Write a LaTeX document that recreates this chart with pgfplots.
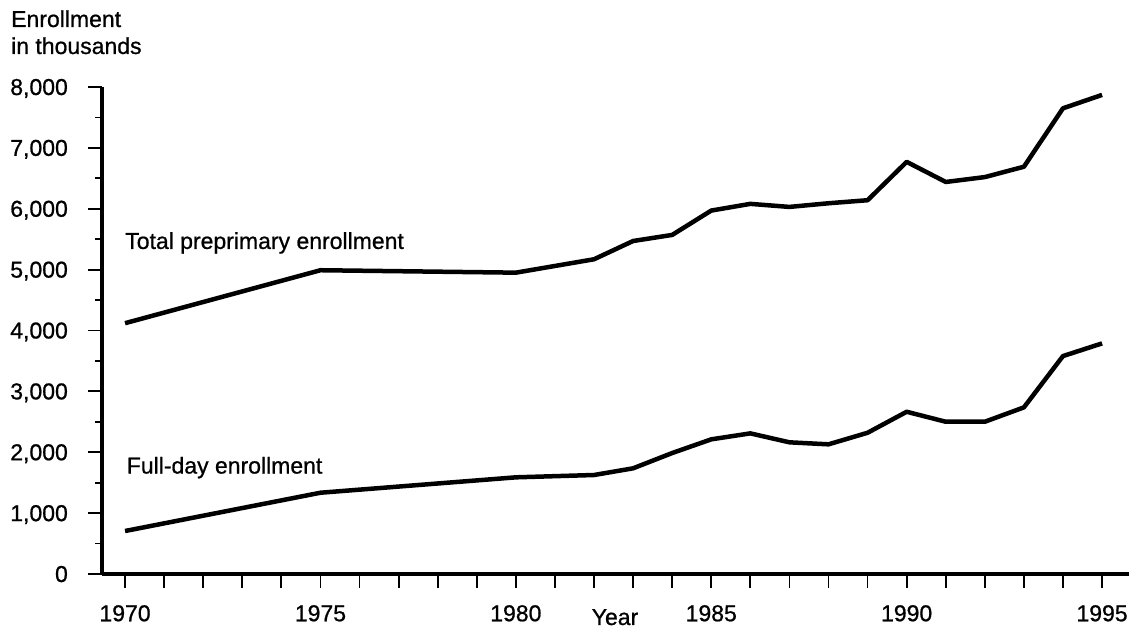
\documentclass[border=0pt]{standalone}
\usepackage{pgfplots}
\pgfplotsset{compat=1.18}
\usepackage{fontspec}
\setmainfont[FakeBold=0.8]{Liberation Sans}
\begin{document}
\fontsize{23}{27}\selectfont
\begin{tikzpicture}
\useasboundingbox (0,0) rectangle (1129pt,628pt);
\begin{axis}[
  at={(102pt,54pt)}, anchor=south west,
  scale only axis, width=1027pt, height=487pt,
  xmin=1969.41, xmax=1995.69, ymin=0, ymax=8000,
  axis x line=bottom, axis y line=left,
  axis line style={-, line width=4pt, black},
  tick align=outside,
  xtick={1970,1971,...,1995},
  xticklabels={1970,,,,,1975,,,,,1980,,,,,1985,,,,,1990,,,,,1995},
  ytick={0,1000,...,8000},
  yticklabels={0,{1,000},{2,000},{3,000},{4,000},{5,000},{6,000},{7,000},{8,000}},
  minor ytick={500,1500,...,7500},
  major tick length=14pt, minor tick length=7pt,
  every tick/.style={line width=1.8pt, black},
  xticklabel style={anchor=north, inner sep=0pt, yshift=-17pt},
  yticklabel style={anchor=base east, inner sep=0pt, xshift=-20pt, yshift=-8pt},
  clip=false,
]
\addplot[black, line width=4.5pt, line join=round] coordinates {
(1970,4120) (1975,4990) (1980,4950) (1982,5170) (1983,5470) (1984,5570)
(1985,5970) (1986,6080) (1987,6030) (1988,6090) (1989,6140) (1990,6770)
(1991,6440) (1992,6520) (1993,6690) (1994,7650) (1995,7870)};
\addplot[black, line width=4.5pt, line join=round] coordinates {
(1970,706) (1975,1335) (1980,1588) (1982,1626) (1983,1736) (1984,1987)
(1985,2212) (1986,2310) (1987,2163) (1988,2130) (1989,2320) (1990,2665)
(1991,2501) (1992,2501) (1993,2737) (1994,3580) (1995,3788)};
\node[anchor=base west, inner sep=0pt] at (axis cs:1970,5340) {Total preprimary enrollment};
\node[anchor=base west, inner sep=0pt] at (axis cs:1970.04,1650) {Full-day enrollment};
\end{axis}
\node[anchor=base, inner sep=0pt] at (615pt,3pt) {Year};
\node[anchor=base west, inner sep=0pt] at (11pt,601pt) {Enrollment};
\node[anchor=base west, inner sep=0pt] at (11pt,574pt) {in thousands};
\end{tikzpicture}
\end{document}
